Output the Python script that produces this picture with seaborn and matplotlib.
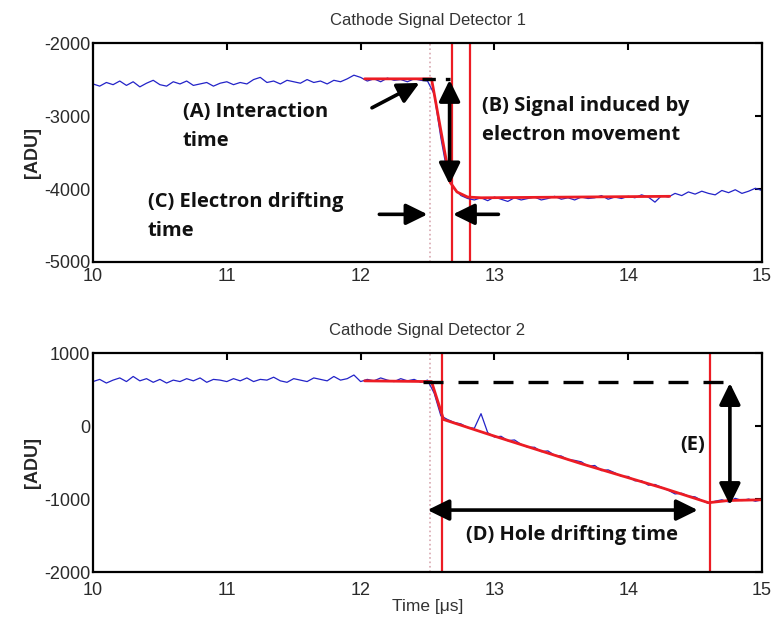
import matplotlib
matplotlib.use("Agg")
import matplotlib.pyplot as plt
import seaborn as sns
import pandas as pd

# ---------------- data ----------------
time_us = [10.00, 10.05, 10.10, 10.15, 10.20, 10.25, 10.30, 10.35, 10.40, 10.45,
           10.50, 10.55, 10.60, 10.65, 10.70, 10.75, 10.80, 10.85, 10.90, 10.95,
           11.00, 11.05, 11.10, 11.15, 11.20, 11.25, 11.30, 11.35, 11.40, 11.45,
           11.50, 11.55, 11.60, 11.65, 11.70, 11.75, 11.80, 11.85, 11.90, 11.95,
           12.00, 12.05, 12.10, 12.15, 12.20, 12.25, 12.30, 12.35, 12.40, 12.45,
           12.50, 12.55, 12.60, 12.65, 12.70, 12.75, 12.80, 12.85, 12.90, 12.95,
           13.00, 13.05, 13.10, 13.15, 13.20, 13.25, 13.30, 13.35, 13.40, 13.45,
           13.50, 13.55, 13.60, 13.65, 13.70, 13.75, 13.80, 13.85, 13.90, 13.95,
           14.00, 14.05, 14.10, 14.15, 14.20, 14.25, 14.30, 14.35, 14.40, 14.45,
           14.50, 14.55, 14.60, 14.65, 14.70, 14.75, 14.80, 14.85, 14.90, 14.95,
           15.00]

det1_signal = [-2560, -2590, -2540, -2570, -2520, -2580, -2530, -2600, -2550, -2510,
               -2570, -2590, -2530, -2560, -2520, -2580, -2560, -2540, -2590, -2550,
               -2530, -2570, -2540, -2560, -2500, -2470, -2540, -2520, -2560, -2510,
               -2530, -2550, -2500, -2540, -2520, -2560, -2510, -2530, -2490, -2440,
               -2470, -2520, -2490, -2530, -2480, -2510, -2500, -2530, -2490, -2510,
               -2520, -2700, -3300, -3800, -4000, -4090, -4130, -4150, -4120, -4160,
               -4110, -4140, -4170, -4120, -4150, -4130, -4110, -4150, -4130, -4100,
               -4140, -4120, -4150, -4110, -4130, -4120, -4090, -4140, -4110, -4130,
               -4100, -4120, -4080, -4110, -4180, -4090, -4110, -4060, -4090, -4040,
               -4070, -4030, -4060, -4080, -4020, -4050, -4010, -4060, -4030, -3990,
               -4020]

det2_signal = [610, 640, 590, 630, 660, 610, 680, 620, 650, 600,
               640, 590, 630, 610, 650, 620, 660, 600, 640, 630,
               610, 650, 620, 660, 610, 640, 630, 670, 620, 600,
               650, 630, 610, 660, 640, 620, 680, 630, 650, 700,
               610, 640, 620, 660, 630, 610, 650, 620, 640, 600,
               630, 450, 140, 90, 50, 30, -20, -30, 170, -90,
               -150, -140, -200, -190, -250, -290, -290, -350, -340, -400,
               -410, -460, -470, -490, -550, -540, -610, -600, -640, -690,
               -690, -750, -750, -810, -800, -840, -880, -930, -920, -960,
               -970, -1020, -1060, -1030, -1010, -1040, -990, -1020, -1000, -1030,
               -1010]

fit1_t = [12.03, 12.53, 12.67, 12.72, 12.80, 12.90, 14.31]
fit1_v = [-2490, -2490, -3910, -4040, -4110, -4120, -4100]

fit2_t = [12.03, 12.53, 12.62, 12.97, 13.64, 14.26, 14.60, 14.75, 15.00]
fit2_v = [620, 610, 90, -120, -510, -850, -1050, -1020, -1010]

det1_dotted = 12.52
det1_red = [12.68, 12.82]
det2_dotted = 12.52
det2_red = [12.61, 14.61]

titles = ["Cathode Signal Detector 1", "Cathode Signal Detector 2"]
ylim1 = (-5000, -2000)
ylim2 = (-2000, 1000)
yticks1 = [-5000, -4000, -3000, -2000]
yticks2 = [-2000, -1000, 0, 1000]
xticks = [10, 11, 12, 13, 14, 15]

# ---------------- style ----------------
sns.set_style("white")
plt.rcParams["font.family"] = ["Liberation Sans", "DejaVu Sans"]
plt.rcParams.update({
    "axes.unicode_minus": False,
    "xtick.direction": "in", "ytick.direction": "in",
    "xtick.top": True, "ytick.right": True,
    "xtick.major.size": 5, "ytick.major.size": 5,
    "xtick.major.width": 1.5, "ytick.major.width": 1.5,
    "axes.linewidth": 1.6, "axes.edgecolor": "black",
    "xtick.color": "black", "ytick.color": "black",
    "xtick.labelcolor": "#2a2a2a", "ytick.labelcolor": "#2a2a2a",
})

BLUE = "#2323c8"
RED = "#ec1c24"
ANN = dict(family=["Open Sans", "DejaVu Sans"], fontweight="bold", fontsize=14.5, color="#111111")

fig = plt.figure(figsize=(7.77, 6.29), dpi=100)
ax1 = fig.add_axes([0.1197, 0.5835, 0.861, 0.348])
ax2 = fig.add_axes([0.1197, 0.0906, 0.861, 0.348])

df = pd.DataFrame({"t": time_us, "d1": det1_signal, "d2": det2_signal})
f1 = pd.DataFrame({"t": fit1_t, "v": fit1_v})
f2 = pd.DataFrame({"t": fit2_t, "v": fit2_v})


def head(style):
    return dict(arrowstyle=style + ",head_length=0.65,head_width=0.32",
                mutation_scale=20, lw=2.6, color="black", shrinkA=0, shrinkB=0)


for ax, col, fit, dot, reds, title, ylim, yt, xpad in [
        (ax1, "d1", f1, det1_dotted, det1_red, titles[0], ylim1, yticks1, 4),
        (ax2, "d2", f2, det2_dotted, det2_red, titles[1], ylim2, yticks2, 7)]:
    ax.axvline(dot, color="#d8a8b0", lw=1.2, ls=":")
    for r in reds:
        ax.axvline(r, color=RED, lw=1.6)
    sns.lineplot(data=df, x="t", y=col, ax=ax, color=BLUE, lw=0.9)
    sns.lineplot(data=fit, x="t", y="v", ax=ax, color=RED, lw=2.0)
    ax.set_xlim(10, 15)
    ax.set_ylim(*ylim)
    ax.set_xticks(xticks)
    ax.set_yticks(yt)
    ax.tick_params(axis="y", labelsize=13, pad=2)
    ax.tick_params(axis="x", labelsize=13, pad=xpad)
    ax.set_title(title, fontsize=12, color="#333333", pad=13)
    ax.set_ylabel("[ADU]", fontsize=13, fontweight="bold", labelpad=2)
    ax.set_xlabel("")

ax2.set_xlabel("Time [\u03bcs]", fontsize=12.5, color="#333333", labelpad=0)

# ---- annotations detector 1 ----
ax1.plot([12.46, 12.67], [-2490, -2490], color="black", lw=2.4, ls=(0, (4, 3)))
ax1.annotate("", xy=(12.44, -2546), xytext=(12.085, -2887), arrowprops=head("-|>"))
ax1.annotate("", xy=(12.665, -2505), xytext=(12.665, -3937), arrowprops=head("<|-|>"))
ax1.annotate("", xy=(12.50, -4347), xytext=(12.14, -4347), arrowprops=head("-|>"))
ax1.annotate("", xy=(12.69, -4347), xytext=(13.03, -4347), arrowprops=head("-|>"))
ax1.text(10.67, -3150, "(A) Interaction\ntime", ha="left", va="center", linespacing=1.6, **ANN)
ax1.text(12.91, -3065, "(B) Signal induced by\nelectron movement", ha="left", va="center", linespacing=1.6, **ANN)
ax1.text(10.41, -4380, "(C) Electron drifting\ntime", ha="left", va="center", linespacing=1.6, **ANN)

# ---- annotations detector 2 ----
ax2.plot([12.47, 14.76], [605, 605], color="black", lw=2.4, ls=(0, (6, 4.5)))
ax2.annotate("", xy=(14.52, -1151), xytext=(12.50, -1151), arrowprops=head("<|-|>"))
ax2.annotate("", xy=(14.76, 590), xytext=(14.76, -1082), arrowprops=head("<|-|>"))
ax2.text(14.48, -260, "(E)", ha="center", va="center", **ANN)
ax2.text(13.58, -1493, "(D) Hole drifting time", ha="center", va="center", **ANN)

fig.savefig("out.png", dpi=100)
